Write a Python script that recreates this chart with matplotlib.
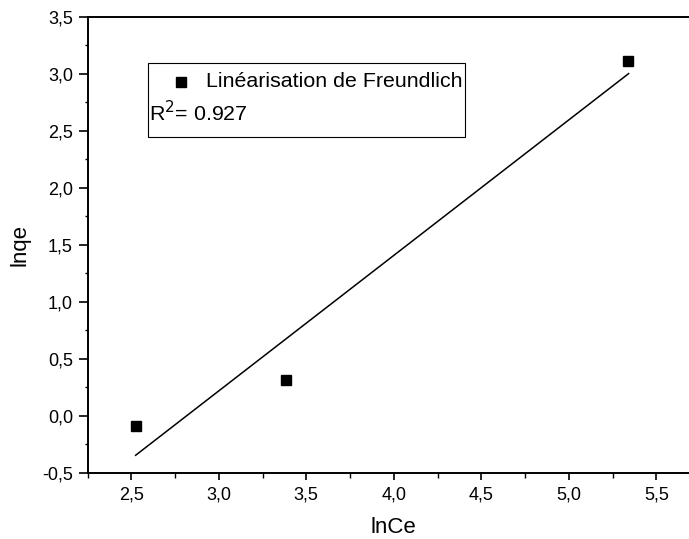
import matplotlib.pyplot as plt
from matplotlib.ticker import MultipleLocator, FuncFormatter
from matplotlib.patches import Rectangle

plt.rcParams['font.family'] = ['Liberation Sans', 'DejaVu Sans']

# données expérimentales
ln_ce = [2.525, 3.387, 5.338]
ln_qe = [-0.088, 0.313, 3.118]

# droite de régression (extrémités)
fit_x = [2.525, 5.342]
fit_y = [-0.347, 3.003]

r2 = 0.927

fig = plt.figure(figsize=(6.89, 5.39), dpi=100)
ax = fig.add_axes([0.127, 0.123, 0.889, 0.8455])

ax.plot(ln_ce, ln_qe, 's', color='black', markersize=7, linestyle='none')
ax.plot(fit_x, fit_y, '-', color='black', linewidth=1.1)

ax.set_xlim(2.25, 5.75)
ax.set_ylim(-0.5, 3.5)

ax.xaxis.set_major_locator(MultipleLocator(0.5))
ax.xaxis.set_minor_locator(MultipleLocator(0.25))
ax.yaxis.set_major_locator(MultipleLocator(0.5))
ax.yaxis.set_minor_locator(MultipleLocator(0.25))

fmt = FuncFormatter(lambda v, p: f"{v:.1f}".replace('.', ','))
ax.xaxis.set_major_formatter(fmt)
ax.yaxis.set_major_formatter(fmt)

for s in ax.spines.values():
    s.set_linewidth(1.4)

ax.tick_params(axis='both', which='both', direction='out', top=False, right=False)
ax.tick_params(axis='both', which='major', labelsize=13, width=1.2)
ax.tick_params(axis='x', which='major', length=5, pad=5)
ax.tick_params(axis='x', which='minor', length=3.5, width=1.0)
ax.tick_params(axis='y', which='major', length=6.5, pad=4)
ax.tick_params(axis='y', which='minor', length=2.5, width=1.0)

ax.set_xlabel('lnCe', fontsize=16, labelpad=10)
ax.set_ylabel('lnqe', fontsize=16, labelpad=8)

# cadre de la légende
ax.add_patch(Rectangle((0.0988, 0.737), 0.517, 0.162, transform=ax.transAxes,
                       facecolor='white', edgecolor='black', linewidth=0.8, zorder=5))
ax.plot([0.153], [0.858], 's', color='black', markersize=7,
        transform=ax.transAxes, zorder=6, clip_on=False)
ax.text(0.193, 0.858, 'Linéarisation de Freundlich', transform=ax.transAxes,
        fontsize=15.4, va='center', ha='left', zorder=6)
ax.text(0.101, 0.791, f'R$^2$= {r2}', transform=ax.transAxes,
        fontsize=15.4, va='center', ha='left', zorder=6)

fig.savefig('out.png', dpi=100)
